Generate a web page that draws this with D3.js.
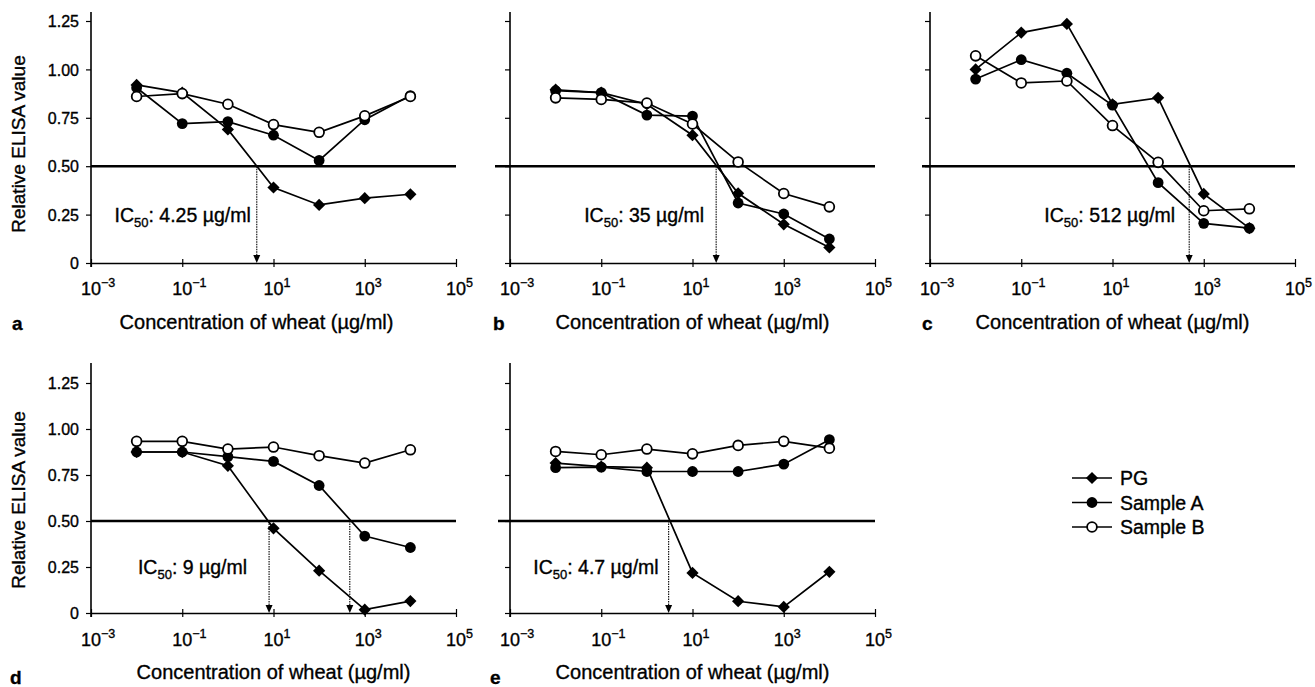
<!DOCTYPE html>
<html>
<head>
<meta charset="utf-8">
<script src="https://cdn.jsdelivr.net/npm/d3@7"></script>
<style>
  body { margin: 0; background: #fff; }
  svg { display: block; font-family: "Liberation Sans", Arial, sans-serif; }
  text { fill: #000; stroke: #000; stroke-width: 0.35px; }
</style>
</head>
<body>
<svg id="chart" width="1315" height="687"></svg>
<script>
// concentrations (µg/ml) used in every panel
const conc = [0.01, 0.1, 1, 10, 100, 1000, 10000];
const xTickExp = [-3, -1, 1, 3, 5];
const yTicks = [0, 0.25, 0.5, 0.75, 1.0, 1.25];
const yTickLabels = ['0', '0.25', '0.50', '0.75', '1.00', '1.25'];

const seriesNames = ['PG', 'Sample A', 'Sample B'];

// relative ELISA values, panel a..e
const pgA = [0.92, 0.88, 0.69, 0.39, 0.30, 0.335, 0.355];
const sampleA_A = [0.905, 0.72, 0.73, 0.66, 0.53, 0.74, 0.865];
const sampleB_A = [0.86, 0.875, 0.82, 0.715, 0.675, 0.76, 0.86];

const pgB = [0.895, 0.88, 0.82, 0.66, 0.36, 0.20, 0.08];
const sampleA_B = [0.89, 0.88, 0.764, 0.759, 0.31, 0.253, 0.124];
const sampleB_B = [0.853, 0.845, 0.826, 0.718, 0.522, 0.359, 0.29];

const pgC = [1.0, 1.19, 1.235, 0.82, 0.853, 0.357, 0.18];
const sampleA_C = [0.95, 1.05, 0.98, 0.815, 0.415, 0.205, 0.18];
const sampleB_C = [1.07, 0.93, 0.94, 0.71, 0.52, 0.27, 0.28];

const pgD = [0.875, 0.875, 0.80, 0.46, 0.23, 0.018, 0.065];
const sampleA_D = [0.875, 0.875, 0.85, 0.824, 0.693, 0.418, 0.356];
const sampleB_D = [0.933, 0.933, 0.891, 0.902, 0.855, 0.815, 0.887];

const pgE = [0.815, 0.796, 0.79, 0.218, 0.064, 0.033, 0.224];
const sampleA_E = [0.79, 0.793, 0.769, 0.769, 0.769, 0.809, 0.942];
const sampleB_E = [0.878, 0.86, 0.891, 0.865, 0.911, 0.933, 0.896];

const panelLetters = ['a', 'b', 'c', 'd', 'e'];
const ic50Text = ['4.25', '35', '512', '9', '4.7'];
// where the dotted arrows hit the x axis (µg/ml)
const arrowConc = [[4.3], [33], [480], [8, 470], [3]];

// layout, kept apart from the data
const rows = [
  { y0: 263, y125: 21, top: 12, tickY: 295, titleY: 329, letterY: 330 },
  { y0: 613, y125: 383, top: 363, tickY: 646, titleY: 679, letterY: 684 }
];
const panels = [
  { left: 91, row: 0, yLabels: true, refStart: 0, labelGap: 6, titleDx: -17, letterX: 12, data: [pgA, sampleA_A, sampleB_A] },
  { left: 510, row: 0, yLabels: false, refStart: 15, labelGap: 12, titleDx: 0, letterX: 493, data: [pgB, sampleA_B, sampleB_B] },
  { left: 930, row: 0, yLabels: false, refStart: 8, labelGap: 14, titleDx: 0, letterX: 922, data: [pgC, sampleA_C, sampleB_C] },
  { left: 91, row: 1, yLabels: true, refStart: 0, labelGap: 22, titleDx: 0, letterX: 10, data: [pgD, sampleA_D, sampleB_D] },
  { left: 510, row: 1, yLabels: false, refStart: 12, labelGap: 10, titleDx: 0, letterX: 490, data: [pgE, sampleA_E, sampleB_E] }
];
const axisWidth = 365;

const svg = d3.select('#chart');

function drawMarker(g, type, x, y) {
  if (type === 0) {
    g.append('path')
      .attr('d', d3.symbol().type(d3.symbolDiamond2).size(95)())
      .attr('transform', `translate(${x},${y})`)
      .attr('fill', '#000');
  } else if (type === 1) {
    g.append('circle').attr('cx', x).attr('cy', y).attr('r', 5.4).attr('fill', '#000');
  } else {
    g.append('circle').attr('cx', x).attr('cy', y).attr('r', 4.9)
      .attr('fill', '#fff').attr('stroke', '#000').attr('stroke-width', 1.8);
  }
}

panels.forEach((p, i) => {
  const r = rows[p.row];
  const x = d3.scaleLog().domain([1e-3, 1e5]).range([p.left, p.left + axisWidth]);
  const y = d3.scaleLinear().domain([0, 1.25]).range([r.y0, r.y125]);
  const g = svg.append('g');

  // y axis
  const yAxis = d3.axisLeft(y).tickValues(yTicks).tickSize(5).tickSizeOuter(0)
    .tickFormat((d, k) => p.yLabels ? yTickLabels[k] : '');
  const ya = g.append('g').attr('transform', `translate(${p.left},0)`).call(yAxis);
  ya.select('.domain').remove();
  ya.attr('font-family', null).attr('font-size', null);
  ya.selectAll('line').attr('stroke', '#000').attr('stroke-width', 1.2);
  ya.selectAll('text').attr('font-size', 16).attr('fill', '#000').attr('dx', -4).attr('dy', '0.36em');
  g.append('line')
    .attr('x1', p.left).attr('x2', p.left)
    .attr('y1', r.y0 + 4).attr('y2', r.top)
    .attr('stroke', '#000').attr('stroke-width', 1.6);

  // x axis
  const xAxis = d3.axisBottom(x).tickValues(xTickExp.map(e => Math.pow(10, e)))
    .tickSize(4).tickSizeOuter(0).tickFormat('');
  const xa = g.append('g').attr('transform', `translate(0,${r.y0})`).call(xAxis);
  xa.select('.domain').attr('stroke', '#000').attr('stroke-width', 1.6);
  xa.selectAll('.tick line').attr('stroke', '#000').attr('stroke-width', 1.2).attr('y1', -4);

  xTickExp.forEach(e => {
    const t = g.append('text')
      .attr('x', x(Math.pow(10, e)) - 10).attr('y', r.tickY)
      .attr('font-size', 18);
    t.append('tspan').text('10');
    t.append('tspan').attr('dy', -8).attr('font-size', 12.5).text(e < 0 ? '\u2212' + (-e) : String(e));
  });

  if (p.yLabels) {
    g.append('text')
      .attr('transform', `translate(25,${(r.y0 + r.y125) / 2 + 2}) rotate(-90)`)
      .attr('text-anchor', 'middle').attr('font-size', 19)
      .text('Relative ELISA value');
  }

  g.append('text')
    .attr('x', p.left + axisWidth / 2 + p.titleDx).attr('y', r.titleY)
    .attr('text-anchor', 'middle').attr('font-size', 20)
    .text('Concentration of wheat (\u00b5g/ml)');

  g.append('text')
    .attr('x', p.letterX).attr('y', r.letterY)
    .attr('font-size', 19).attr('font-weight', 'bold')
    .text(panelLetters[i]);

  // 0.50 reference line
  g.append('line')
    .attr('x1', p.left - p.refStart).attr('x2', p.left + axisWidth)
    .attr('y1', y(0.5)).attr('y2', y(0.5))
    .attr('stroke', '#000').attr('stroke-width', 2.4);

  // IC50 arrows
  arrowConc[i].forEach(c => {
    const ax = x(c);
    g.append('line')
      .attr('x1', ax).attr('x2', ax).attr('y1', y(0.5)).attr('y2', y(0) - 6)
      .attr('stroke', '#000').attr('stroke-width', 1.1).attr('stroke-dasharray', '1.5,1');
    g.append('path')
      .attr('d', `M${ax - 3.5},${y(0) - 8} L${ax + 3.5},${y(0) - 8} L${ax},${y(0)} Z`)
      .attr('fill', '#000');
  });

  const lbl = g.append('text')
    .attr('x', x(arrowConc[i][0]) - p.labelGap).attr('y', y(0.21))
    .attr('text-anchor', 'end').attr('font-size', 19.5);
  lbl.append('tspan').text('IC');
  lbl.append('tspan').attr('dy', 5).attr('font-size', 13).text('50');
  lbl.append('tspan').attr('dy', -5).text(': ' + ic50Text[i] + ' \u00b5g/ml');

  // series lines
  const line = d3.line().x((d, k) => x(conc[k])).y(d => y(d));
  p.data.forEach(vals => {
    g.append('path').datum(vals).attr('d', line)
      .attr('fill', 'none').attr('stroke', '#000').attr('stroke-width', 1.7);
  });
  p.data.forEach((vals, s) => {
    vals.forEach((v, k) => drawMarker(g, s, x(conc[k]), y(v)));
  });
});

// legend
const legend = svg.append('g');
seriesNames.forEach((name, s) => {
  const ly = 478 + s * 24.5;
  legend.append('line').attr('x1', 1072).attr('x2', 1112).attr('y1', ly).attr('y2', ly)
    .attr('stroke', '#000').attr('stroke-width', 1.7);
  drawMarker(legend, s, 1092, ly);
  legend.append('text').attr('x', 1120).attr('y', ly + 7)
    .attr('font-size', 19.5).text(name);
});
</script>
</body>
</html>
